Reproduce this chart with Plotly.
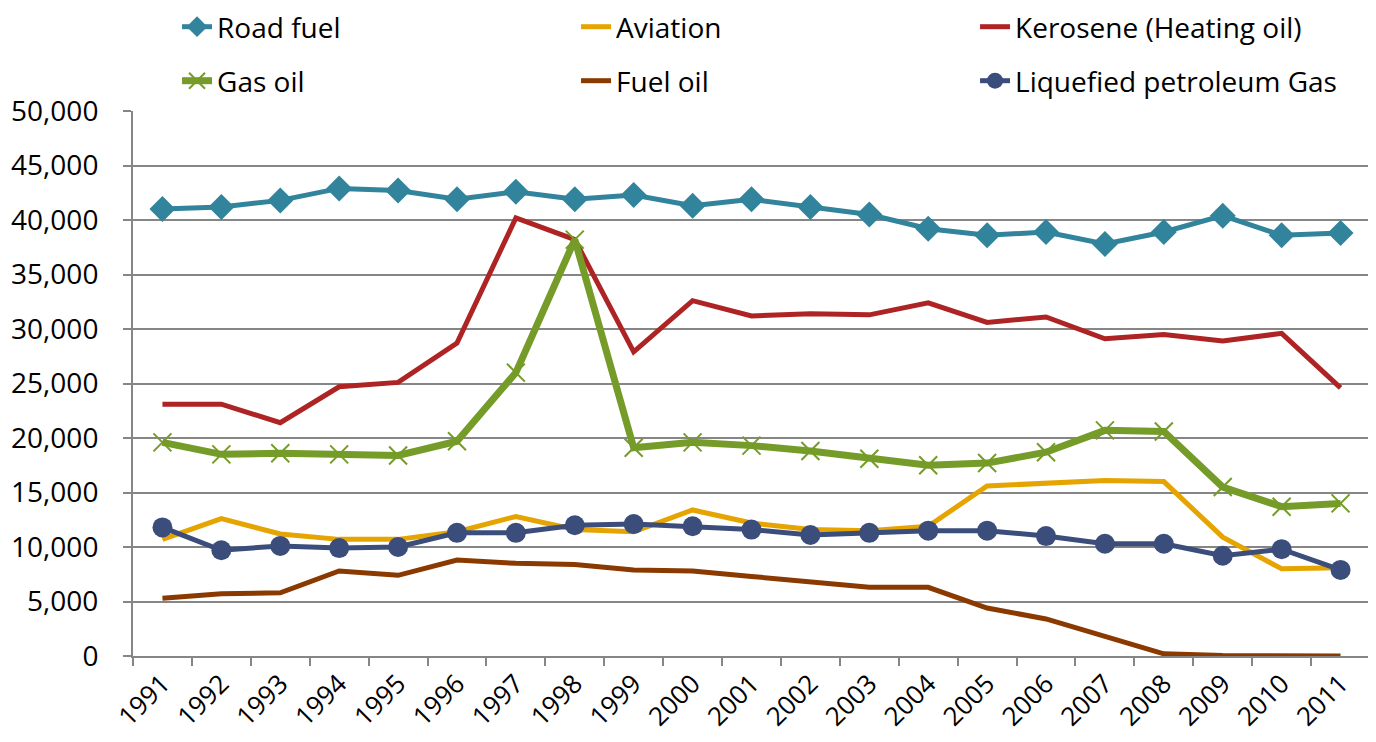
import plotly.graph_objects as go

years = [str(y) for y in range(1991, 2012)]

road_fuel = [41000, 41200, 41800, 42900, 42700, 41900, 42600, 41900, 42300, 41300, 41900,
             41200, 40500, 39200, 38600, 38900, 37800, 38900, 40400, 38600, 38800]
aviation = [10700, 12600, 11200, 10700, 10700, 11400, 12800, 11600, 11400, 13400, 12200,
            11600, 11500, 11900, 15600, 15800, 16100, 16000, 10900, 8000, 8100]
kerosene = [23100, 23100, 21400, 24700, 25100, 28700, 40200, 38200, 27900, 32600, 31200,
            31400, 31300, 32400, 30600, 31100, 29100, 29500, 28900, 29600, 24600]
gas_oil = [19600, 18500, 18600, 18500, 18400, 19700, 26000, 38200, 19100, 19600, 19300,
           18800, 18100, 17500, 17700, 18700, 20700, 20600, 15500, 13700, 14000]
fuel_oil = [5300, 5700, 5800, 7800, 7400, 8800, 8500, 8400, 7900, 7800, 7300,
            6800, 6300, 6300, 4400, 3400, 1800, 200, 50, 0, 0]
lpg = [11800, 9700, 10100, 9900, 10000, 11300, 11300, 12000, 12100, 11900, 11600,
       11100, 11300, 11500, 11500, 11000, 10300, 10300, 9200, 9800, 7900]

FONT = "Open Sans, sans-serif"

fig = go.Figure()

fig.add_trace(go.Scatter(x=years, y=road_fuel, name="Road fuel", mode="lines+markers",
                         line=dict(color="#31849B", width=5),
                         marker=dict(symbol="diamond", size=20, color="#31849B"),
                         legend="legend"))
fig.add_trace(go.Scatter(x=years, y=aviation, name="Aviation", mode="lines",
                         line=dict(color="#E5A400", width=5), legend="legend"))
fig.add_trace(go.Scatter(x=years, y=kerosene, name="Kerosene (Heating oil)", mode="lines",
                         line=dict(color="#AE2424", width=5), legend="legend"))
fig.add_trace(go.Scatter(x=years, y=gas_oil, name="Gas oil", mode="lines+markers",
                         line=dict(color="#759B29", width=7),
                         marker=dict(symbol="x-thin", size=18, color="#759B29",
                                     line=dict(color="#759B29", width=2)),
                         legend="legend2"))
fig.add_trace(go.Scatter(x=years, y=fuel_oil, name="Fuel oil", mode="lines",
                         line=dict(color="#8A3A00", width=5), legend="legend2"))
fig.add_trace(go.Scatter(x=years, y=lpg, name="Liquefied petroleum Gas", mode="lines+markers",
                         line=dict(color="#3B4D7B", width=5),
                         marker=dict(symbol="circle", size=20, color="#3B4D7B"),
                         legend="legend2"))

legend_common = dict(orientation="h", xref="paper", yref="paper",
                     x=0.0356, xanchor="left", yanchor="middle",
                     entrywidth=354, entrywidthmode="pixels",
                     font=dict(family=FONT, size=28, color="#000000"),
                     bgcolor="rgba(0,0,0,0)", itemclick=False)

# page has an 8px body margin, so the figure is shrunk by that amount
fig.update_layout(
    width=1368, height=734,
    margin=dict(l=125, r=6, t=103, b=86, autoexpand=False),
    plot_bgcolor="white", paper_bgcolor="white",
    font=dict(family=FONT, size=26, color="#000000"),
    legend=dict(legend_common, y=(656 - 27) / 545),
    legend2=dict(legend_common, y=(656 - 81) / 545),
    xaxis=dict(type="category", range=[-0.5, 20.5], tickangle=-45,
               showline=True, linecolor="#868686", linewidth=2,
               ticks="outside", tickson="boundaries", ticklen=8,
               tickcolor="#868686", tickwidth=2, showgrid=False,
               tickfont=dict(size=26)),
    yaxis=dict(range=[0, 50000], dtick=5000, tickformat=",",
               showline=True, linecolor="#868686", linewidth=2,
               ticks="outside", ticklen=8, tickcolor="#868686", tickwidth=2,
               ticklabelstandoff=19,
               showgrid=True, gridcolor="#868686", gridwidth=2,
               zeroline=False, tickfont=dict(size=28)),
)

fig.write_html("out.html")
